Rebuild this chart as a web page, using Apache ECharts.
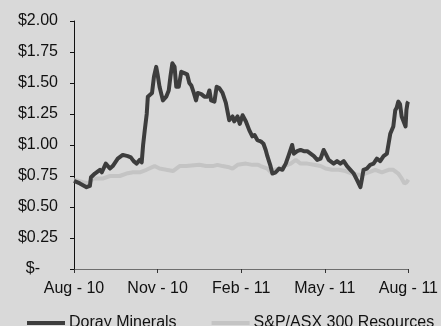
<!DOCTYPE html>
<html>
<head>
<meta charset="utf-8">
<script src="https://cdn.jsdelivr.net/npm/echarts@6/dist/echarts.min.js"></script>
<style>
  html,body{margin:0;padding:0;background:#d9d9d9;}
  #chart{width:441px;height:326px;}
</style>
</head>
<body>
<div id="chart"></div>
<script>
// x is months since Aug 2010
var tickLabels=['Aug - 10','Nov - 10','Feb - 11','May - 11','Aug - 11'];
var seriesNames=['Doray Minerals','S&P/ASX 300 Resources'];

var dorayMonth=[0.00,0.21,0.45,0.57,0.61,0.75,0.93,1.00,1.14,1.29,1.39,1.57,1.75,1.93,2.04,2.14,2.25,2.36,2.43,2.48,2.54,2.61,2.65,2.71,2.80,2.87,2.95,3.00,3.07,3.19,3.31,3.40,3.46,3.53,3.61,3.67,3.76,3.85,3.96,4.06,4.14,4.21,4.30,4.38,4.44,4.57,4.68,4.79,4.86,4.92,5.04,5.12,5.21,5.33,5.45,5.57,5.69,5.75,5.87,5.95,6.05,6.17,6.29,6.40,6.48,6.58,6.70,6.80,6.88,6.94,7.04,7.12,7.24,7.36,7.48,7.60,7.71,7.83,7.89,8.01,8.13,8.25,8.37,8.49,8.61,8.73,8.85,8.96,9.03,9.14,9.32,9.44,9.56,9.68,9.80,9.92,10.04,10.15,10.28,10.33,10.39,10.51,10.63,10.75,10.87,10.99,11.11,11.23,11.29,11.35,11.46,11.53,11.58,11.64,11.70,11.76,11.90,11.93,11.97,12.00];
var dorayPrice=[0.71,0.69,0.66,0.67,0.74,0.77,0.80,0.78,0.85,0.81,0.83,0.89,0.92,0.91,0.90,0.87,0.85,0.88,0.86,1.00,1.12,1.25,1.39,1.38,1.42,1.55,1.63,1.57,1.47,1.36,1.39,1.44,1.55,1.66,1.63,1.47,1.47,1.59,1.58,1.57,1.50,1.48,1.42,1.36,1.42,1.41,1.39,1.39,1.44,1.36,1.35,1.47,1.46,1.42,1.34,1.20,1.23,1.19,1.23,1.17,1.24,1.19,1.12,1.07,1.08,1.04,1.03,1.01,0.96,0.91,0.84,0.77,0.78,0.81,0.80,0.85,0.92,1.00,0.93,0.95,0.96,0.95,0.95,0.93,0.91,0.88,0.89,0.96,0.93,0.88,0.85,0.87,0.85,0.87,0.83,0.80,0.77,0.72,0.66,0.72,0.80,0.81,0.84,0.85,0.89,0.87,0.91,0.93,1.01,1.09,1.15,1.28,1.30,1.35,1.33,1.23,1.15,1.28,1.34,1.35];

var asxMonth=[0.00,0.33,0.51,0.69,1.05,1.29,1.64,1.88,2.12,2.36,2.60,2.89,3.07,3.31,3.55,3.79,4.03,4.50,4.74,4.98,5.15,5.33,5.57,5.69,5.87,6.17,6.40,6.61,6.70,6.94,7.06,7.18,7.42,7.54,7.78,7.96,8.13,8.37,8.61,8.85,9.03,9.26,9.50,9.74,9.98,10.15,10.33,10.57,10.81,11.05,11.29,11.46,11.64,11.76,11.86,11.94,12.00];
var asxValue=[0.72,0.70,0.69,0.73,0.73,0.75,0.75,0.77,0.78,0.78,0.80,0.83,0.81,0.80,0.79,0.83,0.83,0.84,0.83,0.83,0.84,0.83,0.82,0.81,0.84,0.85,0.84,0.84,0.83,0.81,0.78,0.80,0.81,0.83,0.85,0.88,0.85,0.85,0.84,0.83,0.81,0.80,0.80,0.79,0.77,0.76,0.76,0.78,0.80,0.78,0.80,0.80,0.77,0.73,0.69,0.70,0.72];

var chart=echarts.init(document.getElementById('chart'));
var font='Liberation Sans, Arial, sans-serif';

var option={
  backgroundColor:'#d9d9d9',
  animation:false,
  grid:{left:74,right:31,top:21,bottom:57,containLabel:false},
  xAxis:{
    type:'value',
    min:0,max:12,interval:3,
    splitLine:{show:false},
    axisLine:{lineStyle:{color:'#6e6e6e',width:1}},
    axisTick:{length:4,lineStyle:{color:'#333'}},
    axisLabel:{
      margin:12,color:'#111',fontSize:16,fontFamily:font,
      formatter:function(v){return tickLabels[Math.round(v/3)];}
    }
  },
  yAxis:{
    type:'value',
    min:0,max:2,interval:0.25,
    splitLine:{show:false},
    axisLine:{show:true,lineStyle:{color:'#111',width:1}},
    axisTick:{show:true,length:4,lineStyle:{color:'#111'}},
    axisLabel:{
      margin:16,color:'#111',fontSize:16,fontFamily:font,
      formatter:function(v){return v===0?'{z|$-}':'$'+v.toFixed(2);},
      rich:{z:{fontSize:16,fontFamily:font,color:'#111',padding:[0,18,0,0]}}
    }
  },
  legend:{
    data:seriesNames,
    left:22,top:310,width:430,
    itemWidth:38,itemHeight:4,itemGap:35,
    icon:'rect',
    textStyle:{fontSize:16,fontFamily:font,color:'#111',padding:[0,0,0,-1]}
  },
  series:[
    {
      name:seriesNames[1],type:'line',symbol:'none',
      data:asxMonth.map(function(m,i){return [m,asxValue[i]];}),
      lineStyle:{color:'#c4c4c4',width:4},itemStyle:{color:'#c4c4c4'}
    },
    {
      name:seriesNames[0],type:'line',symbol:'none',
      data:dorayMonth.map(function(m,i){return [m,dorayPrice[i]];}),
      lineStyle:{color:'#3d3d3d',width:4,join:'round'},itemStyle:{color:'#3d3d3d'}
    }
  ]
};
chart.setOption(option);
</script>
</body>
</html>
